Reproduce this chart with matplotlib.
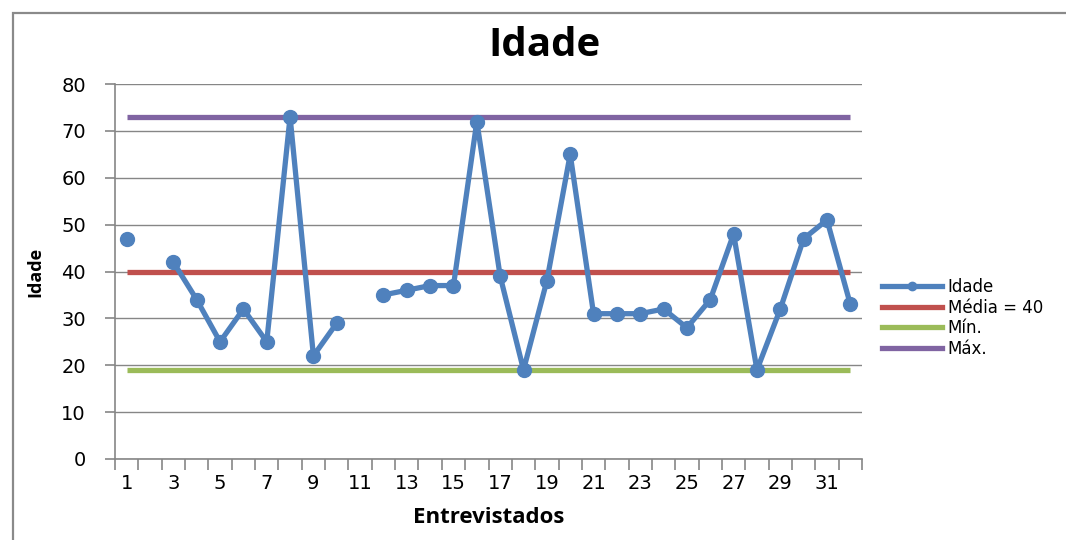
import numpy as np
import matplotlib
matplotlib.use('Agg')
import matplotlib.pyplot as plt
from matplotlib.lines import Line2D
from matplotlib.patches import Rectangle

entrevistados = np.arange(1, 33)
idade = [47, np.nan, 42, 34, 25, 32, 25, 73, 22, 29, np.nan, 35, 36, 37, 37, 72,
         39, 19, 38, 65, 31, 31, 31, 32, 28, 34, 48, 19, 32, 47, 51, 33]
media = 40
minimo = 19
maximo = 73
xticks = list(range(1, 32, 2))
yticks = list(range(0, 81, 10))

azul = '#4F81BD'
vermelho = '#C0504D'
verde = '#9BBB59'
roxo = '#8064A2'
cinza = '#868686'

fig = plt.figure(figsize=(10.66, 5.4), dpi=100)
ax = fig.add_axes([115 / 1066, 1 - 459 / 540, 747 / 1066, 375 / 540])

# moldura do gráfico
fig.patches.append(Rectangle((13 / 1066, -0.1), 1.2, 1 - 13 / 540 + 0.1,
                             transform=fig.transFigure, fill=False,
                             edgecolor='#8a8a8a', lw=1.6))

n = len(entrevistados)
ax.plot(entrevistados, [maximo] * n, color=roxo, lw=3.8, solid_capstyle='butt')
ax.plot(entrevistados, [media] * n, color=vermelho, lw=3.8, solid_capstyle='butt')
ax.plot(entrevistados, [minimo] * n, color=verde, lw=3.8, solid_capstyle='butt')
ax.plot(entrevistados, idade, color=azul, lw=3.8, marker='o', markersize=10,
        zorder=5)

ax.set_xlim(0.5, 32.5)
ax.set_ylim(0, 80)
ax.set_yticks(yticks)
ax.set_xticks(xticks)
ax.set_xticks(np.arange(0.5, 33, 1), minor=True)
ax.tick_params(axis='x', which='major', length=0, pad=11, labelsize=14)
ax.tick_params(axis='x', which='minor', length=8, color=cinza, width=1.2,
               direction='out')
ax.tick_params(axis='y', length=7, color=cinza, width=1.2, pad=14,
               labelsize=14)
ax.grid(axis='y', color=cinza, lw=1)
ax.set_axisbelow(True)
for s in ['top', 'right']:
    ax.spines[s].set_visible(False)
for s in ['left', 'bottom']:
    ax.spines[s].set_color(cinza)
    ax.spines[s].set_linewidth(1.2)

ax.set_xlabel('Entrevistados', fontsize=16, fontweight='bold',
              family='Open Sans', labelpad=10)
ax.set_ylabel('Idade', fontsize=13, fontweight='bold', family='Open Sans',
              labelpad=12)
fig.text(545 / 1066, 1 - 46 / 540, 'Idade', ha='center', va='center',
         fontsize=29, fontweight='bold', family='Open Sans')

handles = [Line2D([], [], color=azul, lw=3.8, marker='o', markersize=6),
           Line2D([], [], color=vermelho, lw=3.8),
           Line2D([], [], color=verde, lw=3.8),
           Line2D([], [], color=roxo, lw=3.8)]
labels = ['Idade', 'Média = 40', 'Mín.', 'Máx.']
fig.legend(handles, labels, loc='center left',
           bbox_to_anchor=(882 / 1066, 1 - 318 / 540), frameon=False,
           fontsize=12, handlelength=3.6, handletextpad=0.35, labelspacing=0.15,
           borderpad=0, borderaxespad=0)

fig.savefig('out.png', dpi=100)
